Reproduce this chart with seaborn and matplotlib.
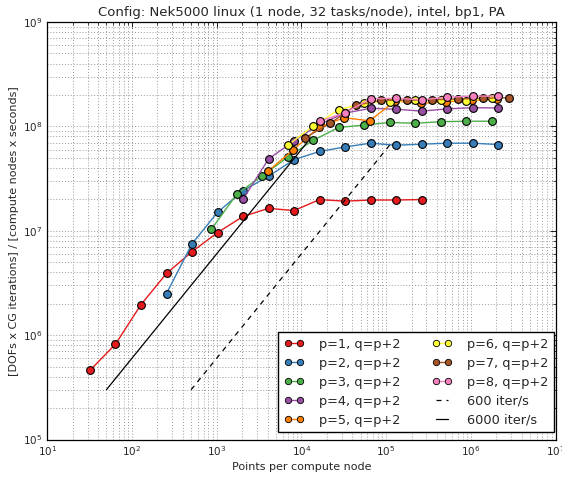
import matplotlib
matplotlib.use("Agg")
import matplotlib.pyplot as plt
from matplotlib.lines import Line2D
import numpy as np
import pandas as pd
import seaborn as sns

# ---- measured throughput per polynomial order (points per node, DOFs*iters/(nodes*s)) ----
p1_points = [32, 64, 128, 256, 512, 1024, 2048, 4096, 8192, 16384, 32768, 65536, 131072, 262144]
p1_rate = [4.6e5, 8.2e5, 1.96e6, 3.9e6, 6.3e6, 9.6e6, 1.37e7, 1.64e7, 1.56e7, 1.99e7, 1.92e7, 1.97e7, 1.97e7, 1.99e7]

p2_points = [256, 512, 1024, 2048, 4096, 8192, 16384, 32768, 65536, 131072, 262144, 524288, 1048576, 2097152]
p2_rate = [2.5e6, 7.5e6, 1.5e7, 2.42e7, 3.33e7, 4.8e7, 5.75e7, 6.35e7, 6.9e7, 6.6e7, 6.75e7, 6.9e7, 6.9e7, 6.7e7]

p3_points = [864, 1728, 3456, 6912, 13824, 27648, 55296, 110592, 221184, 442368, 884736, 1769472]
p3_rate = [1.03e7, 2.24e7, 3.36e7, 5.07e7, 7.36e7, 9.76e7, 1.03e8, 1.09e8, 1.07e8, 1.11e8, 1.12e8, 1.12e8]

p4_points = [2048, 4096, 8192, 16384, 32768, 65536, 131072, 262144, 524288, 1048576, 2097152]
p4_rate = [2.0e7, 4.87e7, 7.25e7, 1.05e8, 1.34e8, 1.49e8, 1.46e8, 1.40e8, 1.47e8, 1.51e8, 1.50e8]

p5_points = [4000, 8000, 16000, 32000, 64000, 128000, 256000, 512000, 1024000, 2048000]
p5_rate = [3.70e7, 5.94e7, 9.76e7, 1.21e8, 1.13e8, 1.75e8, 1.66e8, 1.72e8, 1.77e8, 1.81e8]

p6_points = [6912, 13824, 27648, 55296, 110592, 221184, 442368, 884736, 1769472]
p6_rate = [6.59e7, 1.01e8, 1.44e8, 1.68e8, 1.72e8, 1.79e8, 1.79e8, 1.76e8, 1.86e8]

p7_points = [10976, 21952, 43904, 87808, 175616, 351232, 702464, 1404928, 2809856]
p7_rate = [7.74e7, 1.07e8, 1.59e8, 1.78e8, 1.78e8, 1.80e8, 1.83e8, 1.86e8, 1.88e8]

p8_points = [16384, 32768, 65536, 131072, 262144, 524288, 1048576, 2097152]
p8_rate = [1.12e8, 1.35e8, 1.84e8, 1.86e8, 1.80e8, 1.90e8, 1.95e8, 1.95e8]

series_labels = ["p=1, q=p+2", "p=2, q=p+2", "p=3, q=p+2", "p=4, q=p+2",
                 "p=5, q=p+2", "p=6, q=p+2", "p=7, q=p+2", "p=8, q=p+2"]

# reference slopes: constant iterations per second
ref_labels = ["600 iter/s", "6000 iter/s"]
ref_iters = [600, 6000]
ref_rate_span = [3e5, 7e7]

title = "Config: Nek5000 linux (1 node, 32 tasks/node), intel, bp1, PA"
xlabel = "Points per compute node"
ylabel = "[DOFs x CG iterations] / [compute nodes x seconds]"

all_points = [p1_points, p2_points, p3_points, p4_points,
              p5_points, p6_points, p7_points, p8_points]
all_rates = [p1_rate, p2_rate, p3_rate, p4_rate,
             p5_rate, p6_rate, p7_rate, p8_rate]

frames = []
for lab, xs, ys in zip(series_labels, all_points, all_rates):
    frames.append(pd.DataFrame({"points": xs, "rate": ys, "series": lab}))
df = pd.concat(frames, ignore_index=True)

ref_frames = []
for lab, it in zip(ref_labels, ref_iters):
    r = np.array(ref_rate_span, dtype=float)
    ref_frames.append(pd.DataFrame({"points": r / it, "rate": r, "series": lab}))
ref_df = pd.concat(ref_frames, ignore_index=True)

sns.set_theme(style="white")
plt.rcParams["font.family"] = ["DejaVu Sans"]
plt.rcParams["mathtext.default"] = "regular"

colors = sns.color_palette("Set1", 8)

fig = plt.figure(figsize=(5.62, 4.79), dpi=100)
ax = fig.add_axes([47.2 / 562, 1 - 439.5 / 479, (555.5 - 47.2) / 562, (439.5 - 22) / 479])

sns.lineplot(data=df, x="points", y="rate", hue="series", hue_order=series_labels,
             palette=colors, marker="o", markersize=5.6, markeredgecolor="black",
             markeredgewidth=0.8, linewidth=1.0, estimator=None, sort=False,
             legend=False, ax=ax)

sns.lineplot(data=ref_df, x="points", y="rate", style="series", style_order=ref_labels,
             dashes={"600 iter/s": (4, 4), "6000 iter/s": ""}, color="black",
             linewidth=0.9, estimator=None, sort=False, legend=False, ax=ax)

ax.set_xscale("log")
ax.set_yscale("log")
ax.set_xlim(1e1, 1e7)
ax.set_ylim(1e5, 1e9)

ax.grid(True, which="both", linestyle=(0, (1, 2)), color="0.6", linewidth=0.7)
ax.tick_params(which="both", direction="in", top=True, right=True,
               labelsize=7.5, color="black")
ax.tick_params(which="major", length=4, width=0.6)
ax.tick_params(which="minor", length=2, width=0.5)
for s in ax.spines.values():
    s.set_color("black")
    s.set_linewidth(0.9)

ax.set_title(title, fontsize=9.5, pad=4)
ax.set_xlabel(xlabel, fontsize=8, labelpad=3)
ax.set_ylabel(ylabel, fontsize=8, labelpad=3)

handles = []
for c, lab in zip(colors, series_labels):
    handles.append(Line2D([], [], color=c, marker="o", markersize=4.6,
                          markeredgecolor="black", markeredgewidth=0.6,
                          linewidth=1.0, label=lab))
handles.append(Line2D([], [], color="black", linestyle=(0, (4, 4)), linewidth=0.9,
                      label=ref_labels[0]))
handles.append(Line2D([], [], color="black", linestyle="-", linewidth=0.9,
                      label=ref_labels[1]))

leg = ax.legend(handles=handles, loc="lower right", bbox_to_anchor=(0.997, 0.017),
                ncol=2, numpoints=2, handlelength=1.55, fontsize=9.3, frameon=True,
                fancybox=False, edgecolor="black", framealpha=1, borderaxespad=0.0,
                borderpad=0.42, columnspacing=2.5, labelspacing=0.47, handletextpad=1.15)
leg.get_frame().set_linewidth(1.0)

fig.savefig("out.png", dpi=100)
